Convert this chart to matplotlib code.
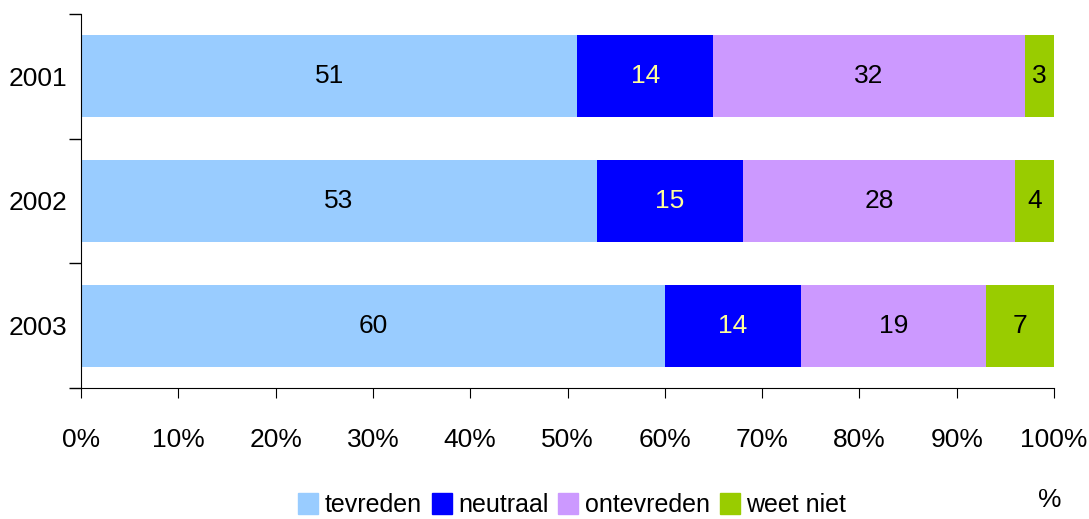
import numpy as np
from matplotlib import pyplot as plt
from matplotlib.patches import Patch

plt.rcParams['font.family'] = ['Liberation Sans', 'DejaVu Sans']

# %% data
years = ['2001', '2002', '2003']
tevreden = [51, 53, 60]
neutraal = [14, 15, 14]
ontevreden = [32, 28, 19]
weet_niet = [3, 4, 7]

series = [('tevreden', tevreden, '#99ccff', 'black'),
          ('neutraal', neutraal, '#0000ff', '#ffff99'),
          ('ontevreden', ontevreden, '#cc99ff', 'black'),
          ('weet niet', weet_niet, '#99cc00', 'black')]

fs = 19

# %% plot
fig = plt.figure(figsize=(10.89, 5.19), dpi=100)
ax = fig.add_axes([81/1089, 1-388/519, (1054-81)/1089, (388-14)/519])

y = np.arange(len(years))
left = np.zeros(len(years))
for name, vals, clr, txt_clr in series:
    vals = np.array(vals, dtype=float)
    bars = ax.barh(y, vals, left=left, height=0.66, color=clr, label=name)
    ax.bar_label(bars, labels=[str(int(v)) for v in vals], label_type='center',
                 color=txt_clr, fontsize=fs)
    left = left + vals

ax.set_xlim(0, 100)
ax.set_ylim(len(years) - 0.5, -0.5)
ax.set_xticks(np.arange(0, 101, 10))
ax.set_xticklabels([f'{v}%' for v in range(0, 101, 10)], fontsize=fs)
ax.set_yticks(y)
ax.set_yticklabels(years, fontsize=fs)
ax.set_yticks(np.arange(-0.5, len(years)), minor=True)
ax.tick_params(axis='y', which='major', length=0, pad=10)
ax.tick_params(axis='y', which='minor', length=9, direction='out', width=1)
ax.tick_params(axis='x', length=7, direction='out', pad=22)
ax.spines['top'].set_visible(False)
ax.spines['right'].set_visible(False)

handles = [Patch(color=c, label=n) for n, _, c, _ in series]
fig.legend(handles=handles, loc='center', bbox_to_anchor=(572/1089, 1-505/519),
           ncol=4, frameon=False, fontsize=18, handlelength=0.8, handleheight=0.9,
           handletextpad=0.25, columnspacing=0.4)
fig.text(1050/1089, 1-500/519, '%', fontsize=fs, ha='center', va='center')

plt.savefig('out.png', dpi=100)
